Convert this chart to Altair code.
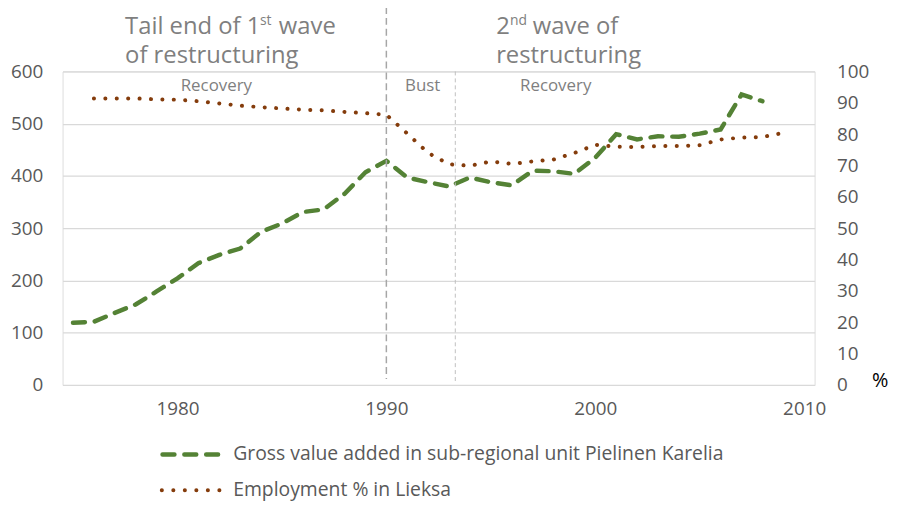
import altair as alt
import pandas as pd

# ---- data ----
years_gva = list(range(1975, 2009))
gva = [119, 121, 138, 154, 179, 204, 233, 249, 261, 293,
       309, 331, 336, 366, 407, 429, 397, 388, 380, 397,
       388, 382, 410, 409, 404, 435, 480, 470, 476, 475,
       481, 489, 556, 543]

years_emp = list(range(1976, 2010))
emp = [91.4, 91.4, 91.4, 91.1, 91.0, 90.5, 89.8, 89.1, 88.6, 88.2,
       87.8, 87.6, 87.1, 86.7, 86.2, 80.2, 74.0, 70.4, 69.9, 71.3,
       70.5, 71.3, 71.9, 74.0, 76.6, 76.0, 75.9, 76.2, 76.2, 76.5,
       78.3, 78.9, 79.1, 80.4]

phase_years = [1990, 1993.3]
series_names = ["Gross value added in sub-regional unit Pielinen Karelia",
                "Employment % in Lieksa"]
left_ticks = [0, 100, 200, 300, 400, 500, 600]
right_ticks = [0, 10, 20, 30, 40, 50, 60, 70, 80, 90, 100]
x_ticks = [1980, 1990, 2000, 2010]
x_domain = [1974.5, 2010.5]
title_parts = ["Tail end of 1", "st", "wave", "of restructuring",
               "2", "nd", "wave of", "restructuring"]
phase_labels = ["Recovery", "Bust", "Recovery"]

FONT = "Open Sans"
GREEN = "#548235"
BROWN = "#843C0C"
TICK = "#595959"
NOTE = "#7f7f7f"

df_gva = pd.DataFrame({"year": years_gva, "gva": gva})
df_emp = pd.DataFrame({"year": years_emp, "emp": emp})

xscale = alt.Scale(domain=x_domain, nice=False, zero=False)

green = alt.Chart(df_gva).mark_line(
    color=GREEN, strokeWidth=4.5, strokeDash=[12, 10], strokeCap="round"
).encode(
    x=alt.X("year:Q", scale=xscale,
            axis=alt.Axis(values=x_ticks, format="d", grid=False, domain=False,
                          ticks=False, labelFont=FONT, labelFontSize=19,
                          labelColor=TICK, labelPadding=15, title=None)),
    y=alt.Y("gva:Q", scale=alt.Scale(domain=[0, 600], nice=False),
            axis=alt.Axis(values=left_ticks, grid=True, gridColor="#d9d9d9",
                          gridWidth=1.3, domain=False, ticks=False,
                          labelFont=FONT, labelFontSize=19, labelColor=TICK,
                          labelPadding=20, title=None))
)

brown = alt.Chart(df_emp).mark_line(
    color=BROWN, strokeWidth=4, strokeDash=[0.1, 11.4], strokeCap="round"
).encode(
    x=alt.X("year:Q", scale=xscale),
    y=alt.Y("emp:Q", scale=alt.Scale(domain=[0, 100], nice=False),
            axis=alt.Axis(orient="right", values=right_ticks, grid=False,
                          domain=False, ticks=False, labelFont=FONT,
                          labelFontSize=19, labelColor=TICK, labelPadding=22,
                          labelAlign="left", title=None))
)

rule1 = alt.Chart(pd.DataFrame({"year": phase_years[:1]})).mark_rule(
    color="#a6a6a6", strokeWidth=1.5, strokeDash=[7, 4]
).encode(x=alt.X("year:Q", scale=xscale), y=alt.value(-65), y2=alt.value(310))

rule2 = alt.Chart(pd.DataFrame({"year": phase_years[1:]})).mark_rule(
    color="#bfbfbf", strokeWidth=1, strokeDash=[4, 3]
).encode(x=alt.X("year:Q", scale=xscale), y=alt.value(0), y2=alt.value(313))


def txt(s, x, y, size, color, align="left", baseline="alphabetic"):
    return alt.Chart(pd.DataFrame({"t": [s]})).mark_text(
        font=FONT, fontSize=size, color=color, align=align, baseline=baseline
    ).encode(text="t:N", x=alt.value(x), y=alt.value(y))


texts = [
    txt(title_parts[0], 63, -38, 24, NOTE),
    txt(title_parts[1], 199, -47, 14, NOTE),
    txt(title_parts[2], 218, -38, 24, NOTE),
    txt(title_parts[3], 63, -9, 24, NOTE),
    txt(title_parts[4], 437, -38, 24, NOTE),
    txt(title_parts[5], 451, -47, 14, NOTE),
    txt(title_parts[6], 474, -38, 24, NOTE),
    txt(title_parts[7], 437, -9, 24, NOTE),
    txt(phase_labels[0], 155, 20, 17, NOTE, align="center"),
    txt(phase_labels[1], 363, 20, 17, NOTE, align="center"),
    txt(phase_labels[2], 497, 20, 17, NOTE, align="center"),
    txt("%", 824, 318, 20, "#000000", align="center"),
    txt(series_names[0], 172, 386, 19.5, TICK, baseline="middle"),
    txt(series_names[1], 172, 422, 19.5, TICK, baseline="middle"),
]

leg_green = alt.Chart(pd.DataFrame({"s": series_names[:1]})).mark_rule(
    color=GREEN, strokeWidth=4.5, strokeDash=[12, 10], strokeCap="round"
).encode(x=alt.value(100.75), x2=alt.value(157), y=alt.value(386))

leg_brown = alt.Chart(pd.DataFrame({"s": series_names[1:]})).mark_rule(
    color=BROWN, strokeWidth=4, strokeDash=[0.1, 11.5], strokeCap="round"
).encode(x=alt.value(100), x2=alt.value(158.5), y=alt.value(422))

chart = alt.layer(green, brown, rule1, rule2, leg_green, leg_brown, *texts).resolve_scale(
    y="independent"
).properties(
    width=758, height=316,
    autosize=alt.AutoSizeParams(type="none"),
    padding={"left": 55, "top": 62, "right": 78, "bottom": 118},
).configure_view(stroke=None).configure(font=FONT)

chart.save("out.html", embed_options={"renderer": "svg", "actions": False})
